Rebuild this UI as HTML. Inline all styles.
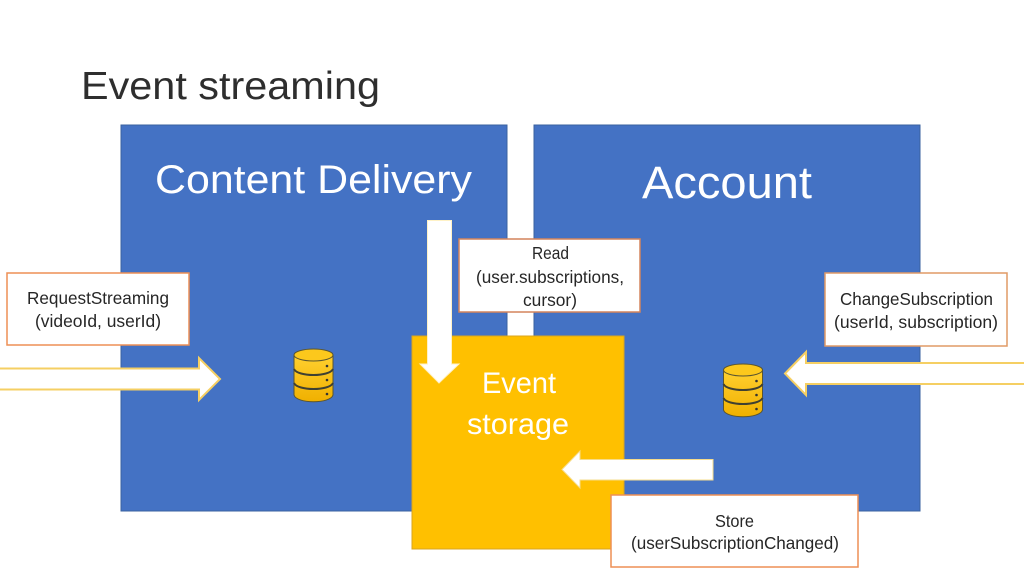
<!DOCTYPE html>
<html>
<head>
<meta charset="utf-8">
<style>
html,body{margin:0;padding:0;background:#fff;width:1024px;height:576px;overflow:hidden}
svg{display:block}
text{font-family:"Liberation Sans",sans-serif}
.s{font-size:17.500px;fill:#262626}
.w{fill:#fff}
</style>
</head>
<body>
<svg width="1024" height="576" viewBox="0 0 1024 576" xmlns="http://www.w3.org/2000/svg">
<defs>
<linearGradient id="g" x1="0" y1="0" x2="0" y2="1"><stop offset="0" stop-color="#ffd030"/><stop offset="1" stop-color="#f0b000"/></linearGradient>
<g id="db">
<path d="M0.500 7V47C3 56 37 56 39.500 47V7Z" fill="url(#g)" stroke="#5a5530" stroke-width="1"/>
<ellipse cx="20" cy="7" rx="19.500" ry="6" fill="#fcc81c" stroke="#5a5530" stroke-width="1"/>
<path d="M0.500 21C4 29 36 29 39.500 21M0.500 35C4 43 36 43 39.500 35" fill="none" stroke="#3f4032" stroke-width="2"/>
<circle cx="33.500" cy="18" r="1.300" fill="#333"/><circle cx="33.500" cy="32" r="1.300" fill="#333"/><circle cx="33.500" cy="46" r="1.300" fill="#333"/>
</g>
</defs>

<text x="81" y="99" font-size="39" fill="#2e2e2e" textLength="299" lengthAdjust="spacingAndGlyphs">Event streaming</text>

<rect x="121" y="125" width="386" height="386" fill="#4472c4" stroke="#3a629f" stroke-width="1"/>
<rect x="534" y="125" width="386" height="386" fill="#4472c4" stroke="#3a629f" stroke-width="1"/>

<text class="w" x="155" y="193" font-size="40" textLength="317" lengthAdjust="spacingAndGlyphs">Content Delivery</text>
<text class="w" x="642" y="198" font-size="45" textLength="170" lengthAdjust="spacingAndGlyphs">Account</text>

<rect x="412" y="336" width="212" height="213" fill="#ffc000" stroke="#d9a520" stroke-width="1"/>
<text class="w" x="482" y="393" font-size="30" textLength="74" lengthAdjust="spacingAndGlyphs">Event</text>
<text class="w" x="467" y="434" font-size="30" textLength="102" lengthAdjust="spacingAndGlyphs">storage</text>

<path d="M0 368.500H199V358L220 379L199 400V389.500H0" fill="#fff" stroke="#f5cf63" stroke-width="2"/>
<path d="M1024 363H806V352L785 373.500L806 395V384H1024" fill="#fff" stroke="#f5cf63" stroke-width="2"/>
<path d="M427.500 220.500H451.500V364H459L439 383L420 364H427.500Z" fill="#fff" stroke="#fff2c6" stroke-width="1"/>
<path d="M713 459.500V480H580V488L562 469.500L580 451V459.500Z" fill="#fff" stroke="#f6dc8c" stroke-width="1"/>

<use href="#db" x="293.500" y="348"/>
<use href="#db" x="723" y="363"/>

<rect x="7" y="273" width="182" height="72" fill="#fff" stroke="#ed8f55" stroke-width="1.500"/>
<text class="s" x="27" y="304" textLength="142" lengthAdjust="spacingAndGlyphs">RequestStreaming</text>
<text class="s" x="35" y="327" textLength="126" lengthAdjust="spacingAndGlyphs">(videoId, userId)</text>

<rect x="459" y="239" width="181" height="73" fill="#fff" stroke="#d4845c" stroke-width="1.500"/>
<text class="s" x="532" y="259" textLength="37" lengthAdjust="spacingAndGlyphs">Read</text>
<text class="s" x="476" y="283" textLength="148" lengthAdjust="spacingAndGlyphs">(user.subscriptions,</text>
<text class="s" x="523" y="306" textLength="54" lengthAdjust="spacingAndGlyphs">cursor)</text>

<rect x="825" y="273" width="182" height="73" fill="#fff" stroke="#e09a66" stroke-width="1.500"/>
<text class="s" x="840" y="305" textLength="153" lengthAdjust="spacingAndGlyphs">ChangeSubscription</text>
<text class="s" x="834" y="328" textLength="164" lengthAdjust="spacingAndGlyphs">(userId, subscription)</text>

<rect x="611" y="495" width="247" height="72" fill="#fff" stroke="#ed8f55" stroke-width="1.500"/>
<text class="s" x="715" y="527" textLength="39" lengthAdjust="spacingAndGlyphs">Store</text>
<text class="s" x="631" y="549" textLength="208" lengthAdjust="spacingAndGlyphs">(userSubscriptionChanged)</text>
</svg>
</body>
</html>
